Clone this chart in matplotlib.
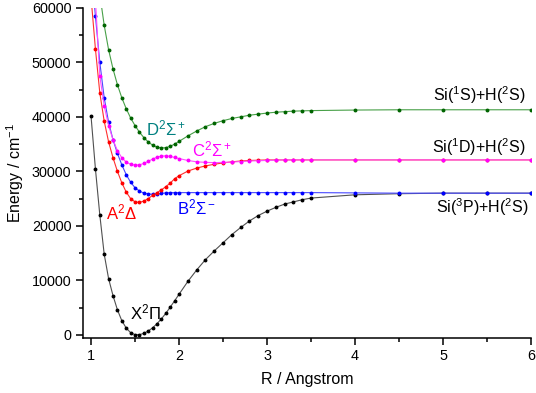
"""
Potential energy curves of SiH, low-lying doublet states.
"""

import numpy as np
import matplotlib
matplotlib.use("Agg")
import matplotlib.pyplot as plt
from matplotlib.ticker import MultipleLocator


# === DATA ===
R = [1.00, 1.05, 1.10, 1.15, 1.20, 1.25, 1.30, 1.35, 1.40, 1.45,
     1.50, 1.55, 1.60, 1.65, 1.70, 1.75, 1.80, 1.85, 1.90, 1.95,
     2.00, 2.1, 2.2, 2.3, 2.4, 2.5, 2.6, 2.7, 2.8, 2.9,
     3.0, 3.1, 3.2, 3.3, 3.4, 3.5, 4.0, 4.5, 5.0, 5.5, 6.0]

X2Pi = [40200, 30500, 22000, 14800, 10300, 7200, 4600, 2600, 1250, 400,
        40, 30, 280, 700, 1300, 2050, 2950, 3950, 5100, 6250,
        7450, 9800, 11900, 13800, 15400, 16900, 18400, 19700, 20900, 21900,
        22700, 23400, 24000, 24400, 24800, 25100, 25700, 25900, 26000, 26000, 26000]

A2Delta = [62000, 52500, 44400, 39200, 35400, 32500, 30000, 27900, 26200, 25000,
           24400, 24300, 24550, 25000, 25600, 26100, 26600, 27200, 27850, 28650,
           29200, 30050, 30600, 31000, 31300, 31550, 31750, 31900, 32000, 32050,
           32100, 32100, 32100, 32100, 32100, 32100, 32100, 32100, 32100, 32100, 32100]

B2Sigma = [68000, 58500, 50000, 43500, 39000, 35800, 33300, 31200, 29400, 28000,
           27000, 26400, 26000, 25850, 25800, 25850, 25950, 26050, 26100, 26100,
           26100, 26100, 26100, 26100, 26100, 26100, 26100, 26100, 26100, 26100,
           26100, 26100, 26100, 26100, 26100, 26100, 26050, 26000, 26000, 26000, 26000]

C2Sigma = [70000, 61500, 47500, 42000, 38400, 35800, 33800, 32500, 31700, 31300,
           31150, 31200, 31450, 31850, 32250, 32600, 32800, 32850, 32750, 32550,
           32350, 32000, 31750, 31650, 31600, 31650, 31700, 31800, 31900, 31950,
           32000, 32050, 32100, 32100, 32100, 32100, 32100, 32100, 32100, 32100, 32100]

D2Sigma = [78000, 70000, 62500, 56800, 52300, 48800, 45900, 43500, 41500, 39800,
           38400, 37200, 36200, 35400, 34800, 34450, 34300, 34350, 34600, 35000,
           35500, 36500, 37400, 38200, 38800, 39300, 39700, 40000, 40300, 40500,
           40700, 40850, 40950, 41050, 41100, 41150, 41250, 41300, 41300, 41300, 41300]

plt.rcParams['font.family'] = ['Liberation Sans', 'DejaVu Sans']
plt.rcParams['mathtext.fontset'] = 'custom'
plt.rcParams['mathtext.rm'] = 'Liberation Sans'
plt.rcParams['mathtext.it'] = 'Liberation Sans:italic'
plt.rcParams['mathtext.sf'] = 'Liberation Sans'

fig = plt.figure(figsize=(5.36, 3.93), dpi=100)
ax = fig.add_axes([0.155, 0.141, 0.836, 0.839])

# (values, line colour, marker colour)
curves = [
    (X2Pi, '#505050', '#000000'),
    (B2Sigma, '#4848ff', '#0000ff'),
    (A2Delta, '#ff3030', '#ff0000'),
    (C2Sigma, '#ff50ff', '#ff00ff'),
    (D2Sigma, '#48a048', '#006400'),
]
for vals, lc, mc in curves:
    ax.plot(R, vals, '-', color=lc, linewidth=0.8, marker='o', markersize=1.8,
            markerfacecolor=mc, markeredgecolor=mc)

ax.set_xlim(0.91, 6.0)
ax.set_ylim(-500, 60000)
ax.xaxis.set_major_locator(MultipleLocator(1))
ax.xaxis.set_minor_locator(MultipleLocator(0.5))
ax.yaxis.set_major_locator(MultipleLocator(10000))
ax.yaxis.set_minor_locator(MultipleLocator(5000))
ax.tick_params(which='major', direction='out', length=5, width=1.1, labelsize=10.4)
ax.tick_params(which='minor', direction='out', length=3, width=1.1)
ax.spines['top'].set_visible(False)
ax.spines['right'].set_visible(False)
ax.spines['left'].set_linewidth(1.1)
ax.spines['bottom'].set_linewidth(1.1)

ax.set_xlabel('R / Angstrom', fontsize=11.5, labelpad=6)
ax.set_ylabel(r'Energy / cm$^{-1}$', fontsize=11.5, labelpad=4)

# state labels
ax.text(1.85, 37800, r'D$^2\Sigma^+$', color='#008080', fontsize=12, ha='center', va='center')
ax.text(2.37, 34000, r'C$^2\Sigma^+$', color='#ff00ff', fontsize=12, ha='center', va='center')
ax.text(1.34, 22500, r'A$^2\Delta$', color='#ff0000', fontsize=12, ha='center', va='center')
ax.text(2.20, 23400, r'B$^2\Sigma^-$', color='#0000ff', fontsize=12, ha='center', va='center')
ax.text(1.62, 4100, r'X$^2\Pi$', color='black', fontsize=12, ha='center', va='center')

# asymptote labels
ax.text(5.93, 43900, r'Si($^1$S)+H($^2$S)', fontsize=11.5, ha='right', va='center')
ax.text(5.93, 34400, r'Si($^1$D)+H($^2$S)', fontsize=11.5, ha='right', va='center')
ax.text(5.97, 23400, r'Si($^3$P)+H($^2$S)', fontsize=11.5, ha='right', va='center')

fig.savefig('out.png', dpi=100)
